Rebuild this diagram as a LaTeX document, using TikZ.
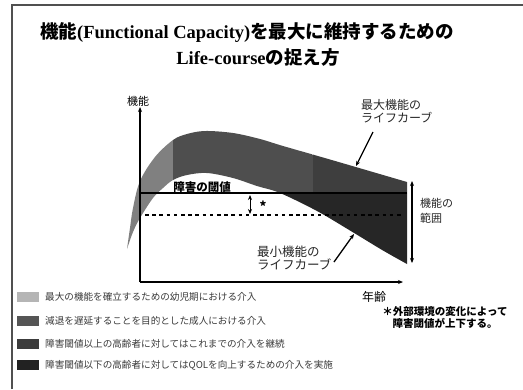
\documentclass[tikz,border=0pt]{standalone}
\usepackage{fontspec}
\setmainfont{Liberation Serif}
\newfontfamily\jp{Noto Sans CJK JP}
\usetikzlibrary{arrows.meta}
\definecolor{frameC}{HTML}{505050}
\definecolor{segA}{HTML}{808080}
\definecolor{segB}{HTML}{4E4E4E}
\definecolor{segC}{HTML}{3E3E3E}
\definecolor{segD}{HTML}{262626}
\definecolor{legA}{HTML}{B5B5B5}
\definecolor{legB}{HTML}{555555}
\definecolor{legC}{HTML}{3C3C3C}
\definecolor{legD}{HTML}{222222}
\definecolor{legT}{HTML}{3A3A3A}
\tikzset{
  tip/.style={-{Stealth[length=5pt,width=4pt]}},
  dtip/.style={{Stealth[length=5pt,width=4pt]}-{Stealth[length=5pt,width=4pt]}},
  ttl/.style={inner sep=0pt, font=\fontsize{18.5}{22}\selectfont\bfseries},
  lbl/.style={inner sep=0pt, font=\jp\fontsize{12}{13}\selectfont, text=black!85, align=left},
  lgbox/.style={minimum width=22pt, minimum height=10pt, inner sep=0pt},
  lgtxt/.style={inner sep=0pt, anchor=west, font=\jp\fontsize{9.6}{11}\selectfont, text=legT},
}
\begin{document}
\begin{tikzpicture}[x=1pt,y=-1pt]
\useasboundingbox (0,0) rectangle (523,389);
\fill[white] (0,0) rectangle (523,389);
% frame
\draw[frameC, line width=1.3pt] (12,389) -- (12,5) -- (523,5);
% title
\node[ttl] (t1) at (247,33) {{\jp 機能}(Functional Capacity){\jp を最大に維持するための}};
\node[ttl] (t2) at (258,57) {Life-course{\jp の捉え方}};
% band
\begin{scope}
\clip plot[smooth,tension=0.55] coordinates {(127,249) (130,228) (133,208) (140,181) (155,157) (173,140) (187,134) (205,131) (233,133) (260,139) (283,146) (330,159.5) (407,182)}
  -- plot[smooth,tension=0.55] coordinates {(407,264) (383,250.5) (350,230.5) (317,211) (280,193) (257,186) (233,178) (207,173) (187,175) (173,180) (163,188) (153,198) (140,218) (133,232) (127,249)} -- cycle;
\fill[segA] (100,100) rectangle (173,300);
\fill[segB] (173,100) rectangle (313,193);
\fill[segC] (313,100) rectangle (420,193);
\fill[segD] (173,193) rectangle (420,300);
\end{scope}
% threshold lines
\coordinate (o) at (140,282);
\coordinate (ytop) at (140,107);
\coordinate (xend) at (403,282);
\coordinate (th1) at (140,193);
\coordinate (th2) at (407,193);
\coordinate (dl1) at (145,215);
\coordinate (dl2) at (402,215);
\draw[line width=2.8pt] (th1) -- (th2);
\draw[line width=2.6pt, dash pattern=on 3.6pt off 3.6pt] (dl1) -- (dl2);
% axes
\draw[line width=1.5pt, tip] (o) -- (ytop);
\draw[line width=1.5pt, tip] (o) -- (xend);
% small double arrow
\coordinate (sa1) at (250,195);
\coordinate (sa2) at (250,214);
\draw[line width=0.9pt, dtip] (sa1) -- (sa2);
\node[inner sep=0pt, font=\jp\fontsize{13}{13}\selectfont\bfseries] (star) at (263,206) {*};
% right double arrow
\coordinate (ra1) at (412,181);
\coordinate (ra2) at (412,263);
\draw[line width=1.2pt, dtip] (ra1) -- (ra2);
% labels
\node[inner sep=0pt, font=\jp\fontsize{11}{12}\selectfont] (ylab) at (138,101) {機能};
\node[inner sep=0pt, font=\jp\fontsize{11.5}{12}\selectfont\bfseries] (thr) at (202,187) {障害の閾値};
\node[lbl, anchor=west] (maxl) at (361,111) {最大機能の\\ライフカーブ};
\node[lbl, anchor=west, font=\jp\fontsize{12.5}{13}\selectfont] (minl) at (257,257.5) {最小機能の\\ライフカーブ};
\node[lbl, anchor=west, font=\jp\fontsize{11}{15}\selectfont] (rng) at (420,211) {機能の\\範囲};
\node[inner sep=0pt, font=\jp\fontsize{12}{12}\selectfont] (age) at (374,297) {年齢};
% pointer arrows
\coordinate (maxp) at (356,166);
\coordinate (minp) at (354,234);
\coordinate (maxs) at (373,132);
\coordinate (mins) at (334,262);
\draw[line width=1.3pt, tip] (maxs) -- (maxp);
\draw[line width=1.3pt, tip] (mins) -- (minp);
% note
\node[inner sep=0pt, align=center, font=\jp\fontsize{10.5}{12}\selectfont\bfseries] (note) at (445,318) {＊外部環境の変化によって\\障害閾値が上下する。};
% legend
\node[lgbox, fill=legA] (b1) at (28,297) {};
\node[lgbox, fill=legB] (b2) at (28,321) {};
\node[lgbox, fill=legC] (b3) at (28,344) {};
\node[lgbox, fill=legD] (b4) at (28,365) {};
\node[lgtxt] (l1) at (45,297) {最大の機能を確立するための幼児期における介入};
\node[lgtxt] (l2) at (45,321) {減退を遅延することを目的とした成人における介入};
\node[lgtxt] (l3) at (45,344) {障害閾値以上の高齢者に対してはこれまでの介入を継続};
\node[lgtxt] (l4) at (45,365) {障害閾値以下の高齢者に対してはQOLを向上するための介入を実施};
\end{tikzpicture}
\end{document}
